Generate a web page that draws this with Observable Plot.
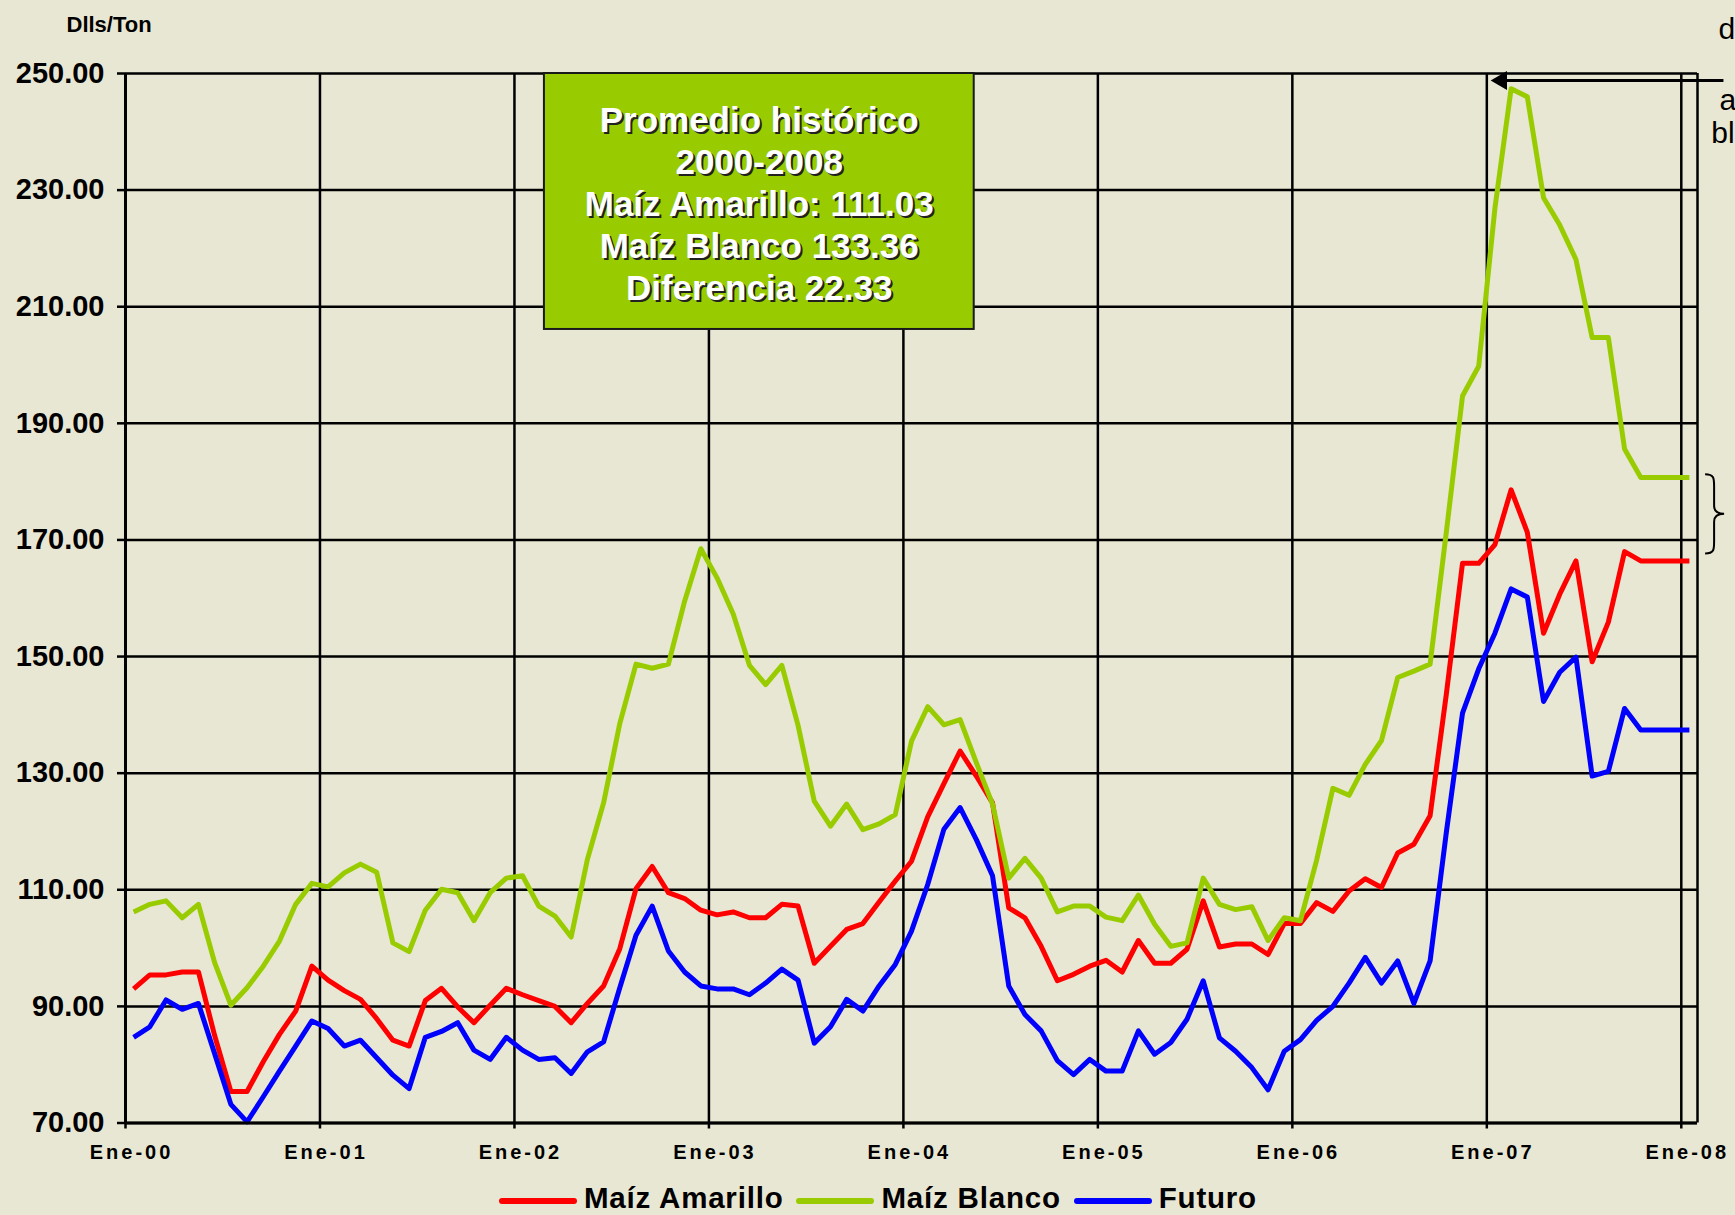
<!DOCTYPE html>
<html>
<head>
<meta charset="utf-8">
<script src="https://cdn.jsdelivr.net/npm/d3@7"></script>
<script src="https://cdn.jsdelivr.net/npm/@observablehq/plot@0.6"></script>
<style>
  html, body { margin: 0; padding: 0; background: #E8E7D3; }
  #wrap { position: relative; width: 1735px; height: 1215px; overflow: hidden; font-family: "Liberation Sans", Arial, sans-serif; }
  #wrap svg { display: block; }
  .legend { position: absolute; left: 499px; top: 1184px; height: 27px; display: flex; align-items: center;
            font-weight: bold; font-size: 29.5px; line-height: 27px; letter-spacing: 0.8px; white-space: nowrap; color: #000; }
  .legend .it { display: flex; align-items: center; margin-right: 13px; height: 27px; }
  .legend .sw { display: inline-block; width: 78px; height: 6px; border-radius: 3px; margin-right: 7px; position: relative; top: 3px; }
</style>
</head>
<body>
<div id="wrap"></div>
<script>
// ---------------- data ----------------
const seriesNames = ["Maíz Amarillo", "Maíz Blanco", "Futuro"];
const seriesColors = ["#FF0000", "#99CC00", "#0000FF"];

// monthly, Ene-00 .. Ene-08 (97 months), Dlls/Ton
const amarillo = [
  93.0, 95.4, 95.4, 95.9, 95.9, 85.0, 75.4, 75.4, 80.5, 85.2, 89.2, 96.9,
  94.5, 92.7, 91.2, 87.9, 84.2, 83.2, 91.0, 93.1, 89.9, 87.2, 90.2, 93.1,
  92.0, 91.0, 90.0, 87.2, 90.5, 93.5, 99.9, 110.2, 114.0, 109.5, 108.5, 106.5,
  105.7, 106.2, 105.2, 105.2, 107.5, 107.2, 97.4, 100.3, 103.2, 104.2, 107.9, 111.5,
  114.9, 122.5, 128.2, 133.8, 129.5, 124.9, 106.9, 105.2, 100.3, 94.4, 95.5, 96.9,
  97.9, 95.9, 101.3, 97.4, 97.4, 99.8, 108.1, 100.2, 100.7, 100.7, 98.9, 104.2,
  104.2, 107.8, 106.3, 109.8, 111.9, 110.4, 116.3, 117.8, 122.7, 143.5, 166.0, 166.0,
  169.2, 178.6, 171.3, 154.0, 160.7, 166.4, 149.1, 155.9, 168.0, 166.4, 166.4, 166.4,
  166.4
];
const blanco = [
  106.2, 107.5, 108.1, 105.2, 107.5, 97.5, 90.2, 93.2, 96.9, 101.2, 107.5, 111.1,
  110.5, 112.9, 114.4, 113.0, 100.9, 99.4, 106.5, 110.1, 109.5, 104.7, 109.5, 112.0,
  112.4, 107.2, 105.5, 101.9, 115.2, 124.9, 138.5, 148.7, 148.0, 148.7, 159.5, 168.5,
  163.5, 157.3, 148.5, 145.2, 148.5, 138.2, 125.2, 120.9, 124.7, 120.3, 121.3, 122.9,
  135.5, 141.4, 138.3, 139.2, 131.8, 124.7, 112.0, 115.4, 112.0, 106.2, 107.2, 107.2,
  105.3, 104.7, 109.1, 104.1, 100.3, 100.9, 112.0, 107.5, 106.6, 107.1, 101.3, 105.2,
  104.7, 115.1, 127.4, 126.2, 131.5, 135.6, 146.4, 147.5, 148.7, 171.3, 194.7, 199.8,
  226.9, 247.4, 246.0, 228.7, 224.0, 218.1, 204.7, 204.7, 185.6, 180.7, 180.7, 180.7,
  180.7
];
const futuro = [
  84.7, 86.5, 91.1, 89.5, 90.5, 81.9, 73.2, 70.2, 74.5, 78.9, 83.2, 87.5,
  86.2, 83.2, 84.2, 81.2, 78.2, 75.9, 84.7, 85.7, 87.2, 82.5, 80.9, 84.7,
  82.5, 80.9, 81.2, 78.5, 82.2, 83.9, 93.2, 102.2, 107.2, 99.5, 95.9, 93.5,
  93.0, 93.0, 92.0, 94.0, 96.4, 94.5, 83.7, 86.5, 91.2, 89.2, 93.5, 97.2,
  102.9, 110.9, 120.4, 124.1, 118.6, 112.4, 93.5, 88.6, 85.8, 80.7, 78.3, 80.9,
  78.9, 78.9, 85.8, 81.8, 83.8, 87.8, 94.4, 84.6, 82.3, 79.5, 75.7, 82.3,
  84.3, 87.6, 90.0, 94.0, 98.4, 94.0, 97.8, 90.5, 97.8, 119.8, 140.3, 147.9,
  154.0, 161.6, 160.2, 142.3, 147.3, 149.9, 129.5, 130.3, 141.1, 137.4, 137.4, 137.4,
  137.4
];
const seriesValues = [amarillo, blanco, futuro];

const xTickLabels = ["Ene-00", "Ene-01", "Ene-02", "Ene-03", "Ene-04", "Ene-05", "Ene-06", "Ene-07", "Ene-08"];
const yTicks = [70, 90, 110, 130, 150, 170, 190, 210, 230, 250];
const yUnit = "Dlls/Ton";

const boxLines = ["Promedio histórico", "2000-2008", "Maíz Amarillo: 111.03", "Maíz Blanco 133.36", "Diferencia 22.33"];

// ---------------- build ----------------
const monthsPerYear = 12;
const xTicks = xTickLabels.map((_, i) => i * monthsPerYear);
const nMonths = amarillo.length;          // 97 categories
const rows = seriesNames.flatMap((s, k) => seriesValues[k].map((v, i) => ({t: i + 0.5, v, s})));

// annotation anchors (data units)
const box = [{x1: 25.85, x2: 52.37, y1: 250, y2: 206.1}];
const boxText = boxLines.map((line, i) => ({line, x: 39.1, y: 239.9 - i * 7.2}));
const arrow = [{x1: 98.6, x2: 84.23, y: 248.8}];
const sideText = [{t: "d", x: 98.3, y: 256.0}, {t: "a", x: 98.36, y: 243.8}, {t: "bl", x: 97.85, y: 238.0}];
const unitText = [{t: yUnit, x: -3.64, y: 257.2}];
const brace = {x: 97.5, y1: 181.2, y2: 167.6};

const font = '"Liberation Sans", Arial, sans-serif';
const chart = Plot.plot({
  width: 1735,
  height: 1215,
  marginLeft: 125,
  marginRight: 38,
  marginTop: 73,
  marginBottom: 92.5,
  style: {background: "#E8E7D3", color: "#000", fontFamily: font, overflow: "visible"},
  x: {domain: [0, nMonths]},
  y: {domain: [70, 250]},
  color: {domain: seriesNames, range: seriesColors},
  marks: [
    Plot.gridX(xTicks, {stroke: "#000", strokeOpacity: 1, strokeWidth: 2.5}),
    Plot.gridY(yTicks, {stroke: "#000", strokeOpacity: 1, strokeWidth: 2.5}),
    Plot.ruleX([nMonths], {stroke: "#000", strokeWidth: 2.5}),
    Plot.rect(box, {x1: "x1", x2: "x2", y1: "y1", y2: "y2", fill: "#99CC00", stroke: "#1a1a1a", strokeWidth: 2}),
    Plot.text(boxText, {x: "x", y: "y", text: "line", dx: 2, dy: 2, lineAnchor: "bottom", fontSize: 35, fontWeight: "bold", fill: "#222"}),
    Plot.text(boxText, {x: "x", y: "y", text: "line", lineAnchor: "bottom", fontSize: 35, fontWeight: "bold", fill: "#fff"}),
    Plot.line(rows, {x: "t", y: "v", z: "s", stroke: "s", strokeWidth: 5, strokeLinejoin: "round", strokeLinecap: "butt"}),
    Plot.ruleX([0], {stroke: "#000", strokeWidth: 3}),
    Plot.ruleY([70], {stroke: "#000", strokeWidth: 3}),
    Plot.axisY(yTicks, {tickFormat: d => d.toFixed(2), tickSize: 8, tickPadding: 13, fontSize: 29, fontWeight: "bold", strokeWidth: 2.5, label: null}),
    Plot.axisX(xTicks, {tickSize: 6, tickFormat: () => "", strokeWidth: 2.5, label: null}),
    Plot.text(xTicks, {x: d => d, text: d => xTickLabels[d / monthsPerYear], frameAnchor: "bottom", dy: 29.5, dx: 6, lineAnchor: "middle", fontSize: 20, fontWeight: "bold", className: "xlab"}),
    Plot.text(unitText, {x: "x", y: "y", text: "t", textAnchor: "start", lineAnchor: "bottom", fontSize: 22, fontWeight: "bold"}),
    Plot.link(arrow, {x1: "x1", x2: d => d.x2 + 0.6, y1: "y", y2: "y", stroke: "#000", strokeWidth: 3}),
    Plot.dot(arrow, {x: "x2", y: "y", symbol: "triangle", rotate: -90, r: 7, dx: 11, fill: "#000", stroke: "none"}),
    Plot.text(sideText, {x: "x", y: "y", text: "t", textAnchor: "start", lineAnchor: "bottom", fontSize: 30, fill: "#000"})
  ]
});

// thin brace on the right, positioned through the plot's scales
const sx = chart.scale("x"), sy = chart.scale("y");
const bx = sx.apply(brace.x), by1 = sy.apply(brace.y1), by2 = sy.apply(brace.y2), bm = (by1 + by2) / 2;
const w = 9;
d3.select(chart).append("path")
  .attr("fill", "none").attr("stroke", "#000").attr("stroke-width", 2)
  .attr("d", `M${bx},${by1} C${bx + w},${by1} ${bx + w},${by1 + 4} ${bx + w},${by1 + 12}
              L${bx + w},${bm - 8} C${bx + w},${bm - 2} ${bx + w + 4},${bm} ${bx + w + 10},${bm}
              C${bx + w + 4},${bm} ${bx + w},${bm + 2} ${bx + w},${bm + 8}
              L${bx + w},${by2 - 12} C${bx + w},${by2 - 4} ${bx + w},${by2} ${bx},${by2}`);
d3.select(chart).selectAll(".xlab text").style("letter-spacing", "3px");

const wrap = document.getElementById("wrap");
wrap.appendChild(chart);

// legend below the plot area
const legend = document.createElement("div");
legend.className = "legend";
seriesNames.forEach((name, k) => {
  const it = document.createElement("span");
  it.className = "it";
  const sw = document.createElement("span");
  sw.className = "sw";
  sw.style.background = seriesColors[k];
  const label = document.createElement("span");
  label.textContent = name;
  it.appendChild(sw);
  it.appendChild(label);
  legend.appendChild(it);
});
wrap.appendChild(legend);
</script>
</body>
</html>
